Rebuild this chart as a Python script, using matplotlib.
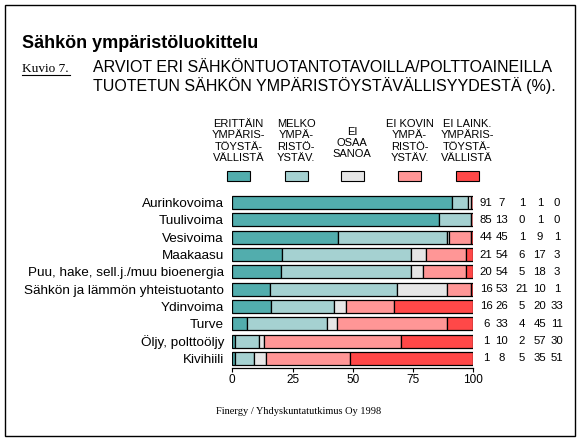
import numpy as np
import matplotlib
matplotlib.use('Agg')
import matplotlib.pyplot as plt
from matplotlib.patches import Rectangle
from matplotlib.lines import Line2D
from matplotlib import font_manager

names = [f.name for f in font_manager.fontManager.ttflist]
narrow = 'Liberation Sans Narrow' if 'Liberation Sans Narrow' in names else 'Liberation Sans'

# data
categories = ['Aurinkovoima', 'Tuulivoima', 'Vesivoima', 'Maakaasu',
              'Puu, hake, sell.j./muu bioenergia', 'Sähkön ja lämmön yhteistuotanto',
              'Ydinvoima', 'Turve', 'Öljy, polttoöljy', 'Kivihiili']
erittain = [91, 85, 44, 21, 20, 16, 16, 6, 1, 1]
melko = [7, 13, 45, 54, 54, 53, 26, 33, 10, 8]
ei_osaa = [1, 0, 1, 6, 5, 21, 5, 4, 2, 5]
ei_kovin = [1, 1, 9, 17, 18, 10, 20, 45, 57, 35]
ei_laink = [0, 0, 1, 3, 3, 1, 33, 11, 30, 51]
series_labels = ['ERITTÄIN\nYMPÄRIS-\nTÖYSTÄ-\nVÄLLISTÄ',
                 'MELKO\nYMPÄ-\nRISTÖ-\nYSTÄV.',
                 'EI\nOSAA\nSANOA',
                 'EI KOVIN\nYMPÄ-\nRISTÖ-\nYSTÄV.',
                 'EI LAINK.\nYMPÄRIS-\nTÖYSTÄ-\nVÄLLISTÄ']
colors = ['#52adad', '#a5d1d1', '#e6e6e6', '#ff9696', '#ff4848']

series = np.array([erittain, melko, ei_osaa, ei_kovin, ei_laink], dtype=float)
shares = series / series.sum(axis=0) * 100

W, H = 580, 442
fig = plt.figure(figsize=(W / 100, H / 100), dpi=100)
fig.patch.set_facecolor('white')

def fx(px):
    return px / W

def fy(py):
    return 1 - py / H

# outer frame
fig.patches.append(Rectangle((fx(5), fy(436)), fx(570), 431 / H, transform=fig.transFigure,
                             fill=False, edgecolor='black', linewidth=1.0))

fig.text(fx(22), fy(48), 'Sähkön ympäristöluokittelu', fontsize=13, fontweight='bold',
         family='Liberation Sans', va='baseline')
fig.text(fx(22), fy(72), 'Kuvio 7.', fontsize=9.5, family='Liberation Serif', va='baseline')
fig.lines.append(Line2D([fx(22), fx(70)], [fy(75), fy(75)], transform=fig.transFigure,
                        color='black', linewidth=0.8))
fig.text(fx(93), fy(72), 'ARVIOT ERI SÄHKÖNTUOTANTOTAVOILLA/POLTTOAINEILLA',
         fontsize=11.5, family='Liberation Sans', va='baseline')
fig.text(fx(93), fy(91), 'TUOTETUN SÄHKÖN YMPÄRISTÖYSTÄVÄLLISYYDESTÄ (%).',
         fontsize=11.5, family='Liberation Sans', va='baseline')

# legend
leg_x = [238.5, 296, 352, 409.5, 467]
for lx, lab, c in zip(leg_x, series_labels, colors):
    ly = 143 if lab.count('\n') == 2 else 141
    fig.text(fx(lx), fy(ly), lab, fontsize=8, family=narrow, ha='center', va='center',
             linespacing=1.15)
    fig.patches.append(Rectangle((fx(lx - 11.5), fy(181)), fx(23), 9.5 / H,
                                 transform=fig.transFigure, facecolor=c,
                                 edgecolor='black', linewidth=0.8))

ax = fig.add_axes([fx(232.3), fy(368), fx(241), 174 / H])
y = np.arange(len(categories))
left = np.zeros(len(categories))
for vals, c in zip(shares, colors):
    w = np.where(vals > 0, vals, np.nan)
    ax.barh(y, w, left=left, height=0.75, color=c, edgecolor='black', linewidth=0.9)
    left += vals

ax.set_xlim(0, 100)
ax.set_ylim(9.56, -0.5)
ax.set_yticks(y, categories, fontsize=9.7, family='Liberation Sans')
ax.tick_params(axis='y', length=0, pad=6)
ax.set_xticks([0, 25, 50, 75, 100])
ax.tick_params(axis='x', length=3, width=0.8, pad=1.5, labelsize=8.5)
for t in ax.get_xticklabels():
    t.set_family(narrow)
for s in ['top', 'right', 'left']:
    ax.spines[s].set_visible(False)
ax.spines['bottom'].set_linewidth(0.9)

# printed values to the right of the bars
col_x = [105.3, 111.8, 120.2, 127.6, 134.7]
for vals, cx in zip(series, col_x):
    for yi, v in zip(y, vals):
        ax.text(cx, yi, f'{int(v)}', ha='center', va='center', fontsize=8.2,
                family=narrow, clip_on=False)

fig.text(fx(299), fy(412), 'Finergy / Yhdyskuntatutkimus Oy 1998', fontsize=7.5,
         family='Liberation Serif', ha='center', va='center')

fig.savefig('out.png', dpi=100)
